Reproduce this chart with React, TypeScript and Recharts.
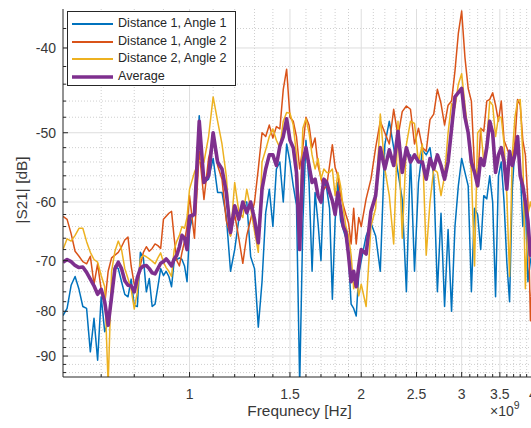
import React from 'react';
import { LineChart, Line, XAxis, YAxis, CartesianGrid, Legend, Label } from 'recharts';

// Frequency in GHz (axis shows Hz with x10^9 multiplier)
const freqGHz = [
  0.60, 0.61, 0.62, 0.63, 0.64, 0.65, 0.66, 0.67, 0.68, 0.69,
  0.70, 0.71, 0.72, 0.73, 0.74, 0.75, 0.76, 0.77, 0.78, 0.79,
  0.80, 0.81, 0.82, 0.83, 0.84, 0.85, 0.86, 0.87, 0.88, 0.89,
  0.90, 0.91, 0.92, 0.93, 0.94, 0.95, 0.96, 0.97, 0.98, 0.99,
  1.00,
  1.02, 1.04, 1.06, 1.08, 1.10, 1.12, 1.14, 1.16, 1.18, 1.20,
  1.22, 1.24, 1.26, 1.28, 1.30, 1.32, 1.34, 1.36, 1.38, 1.40,
  1.42, 1.44, 1.46, 1.48, 1.50, 1.52, 1.54, 1.56, 1.58, 1.60,
  1.62, 1.64, 1.66, 1.68, 1.70, 1.72, 1.74, 1.76, 1.78, 1.80,
  1.82, 1.84, 1.86, 1.88, 1.90, 1.92, 1.94, 1.96, 1.98, 2.00,
  2.04, 2.08, 2.12, 2.16, 2.20, 2.24, 2.28, 2.32, 2.36, 2.40,
  2.44, 2.48, 2.52, 2.56, 2.60, 2.64, 2.68, 2.72, 2.76, 2.80,
  2.84, 2.88, 2.92, 2.96, 3.00, 3.04, 3.08, 3.12, 3.16, 3.20,
  3.24, 3.28, 3.32, 3.36, 3.40, 3.44, 3.48, 3.52, 3.56, 3.60,
  3.64, 3.68, 3.72, 3.76, 3.80, 3.84, 3.88, 3.92, 3.96, 4.00,
  4.04,
];

// |S21| in dB
const dist1Angle1 = [
  -80.9, -79.4, -74.7, -73, -75.5, -79, -79.4, -89, -81.5, -91,
  -77, -84.4, -82.5, -78, -71, -71.5, -74, -76.5, -77, -73.5,
  -78.8, -79, -68.5, -69.5, -76, -73.4, -79, -78.5, -75, -71.5,
  -72.8, -72, -73, -75, -70, -69.8, -69.5, -69.8, -71, -74,
  -64.5,
  -61.2, -47.8, -57, -56.5, -53.5, -58.5, -58.5, -62.3, -72, -68,
  -62.8, -60, -60, -69.3, -71.5, -83.4, -74, -61.7, -58, -64,
  -55, -54, -60, -51.5, -54, -57.5, -60.5, -97, -63.4, -51,
  -57, -72, -58.5, -63.4, -70, -56.5, -58, -61, -77.5, -63,
  -57, -63, -64.5, -66, -69.3, -78.5, -79.4, -81, -72.6, -70,
  -65.6, -63.4, -65.6, -72, -51.6, -48.5, -52, -55.5, -59.6, -76,
  -53, -72, -57, -52.3, -53, -52, -56, -76, -61.8, -79,
  -64.5, -80, -64, -57.5, -53.5, -55.5, -57.5, -76, -61, -62,
  -68, -59, -59.5, -56, -60, -77, -56, -54, -60, -70.3,
  -78, -58, -51.8, -50.5, -55, -64, -60, -74, -70, -68,
  -66,
];

const dist1Angle2 = [
  -62.3, -62.8, -65.2, -68.3, -69.2, -70.2, -70.6, -69.2, -74.5, -70.6,
  -75.5, -78.5, -72, -69.5, -69, -68.5, -67.5, -66.3, -65.8, -71,
  -74.5, -74.8, -70.9, -68.5, -67.5, -68.3, -67.8, -67, -67.3, -67.8,
  -62.8, -62.3, -61.8, -61.5, -66, -70, -71, -68.5, -66.5, -64,
  -59,
  -66, -52.5, -59.6, -53.5, -50.8, -54.5, -56.5, -63, -65.6, -62,
  -66, -70.5, -65.5, -62.8, -60, -55, -50, -50.5, -49, -50.7,
  -49.2, -49.5, -44.6, -42.3, -48, -48.5, -50.5, -55, -52, -48,
  -49, -52, -50.7, -54.5, -56.3, -58, -57.5, -54.5, -51.6, -54.8,
  -56, -59, -60.5, -62, -63.4, -67, -61, -67, -62.5, -64,
  -59.5, -56.5, -52, -48.5, -50, -51.5, -47, -50.5, -47.3, -46.6,
  -47, -51.5, -49.4, -52, -52.5, -48.3, -47.6, -44.6, -46.3, -49,
  -46.5, -46, -42.5, -38.5, -36.3, -41, -44.5, -46, -55, -57,
  -49.4, -49.8, -46, -45.8, -45, -46.5, -48.5, -46, -51, -52,
  -53, -54, -51.2, -45.8, -46.5, -51, -53, -60, -82, -70,
  -66,
];

const dist2Angle2 = [
  -68, -66.1, -66.5, -65.5, -64.3, -64.3, -66.6, -68.5, -69.8, -70.3,
  -72.8, -75, -97, -72, -68.3, -66.5, -68, -71.5, -73.4, -75.5,
  -79.5, -76, -69.7, -69, -69.3, -69.7, -70.1, -70.6, -69.5, -68.6,
  -70.3, -71.3, -72, -73, -68, -66.5, -65.5, -64, -64.3, -62.5,
  -58,
  -55.5, -53.8, -54, -50.5, -45.5, -48.5, -51.5, -56, -65.6, -57,
  -61.5, -62.5, -58, -61, -64.8, -68.5, -54, -52.3, -50.5, -49.5,
  -51, -52, -48.5, -47.4, -47.5, -49, -53, -63, -49.4, -48.2,
  -50, -53, -55, -53.5, -56.5, -55, -55.5, -55.5, -55, -59,
  -55.5, -57.5, -61, -64, -65.6, -69, -75.4, -73, -76.8, -74.5,
  -79, -64, -61, -47.6, -55, -59, -67, -48.5, -66, -51.6,
  -48.5, -48.8, -54, -51.5, -69, -60, -55, -55.5, -59, -56,
  -50, -46.3, -46.8, -44, -42.8, -46.5, -50, -55.5, -71, -50,
  -49.5, -54, -51.2, -46, -46.5, -50.5, -48, -48, -51.5, -59,
  -73, -53, -48, -46, -45.8, -53, -75.4, -62, -60, -62,
  -63,
];

const average = [
  -70.3, -69.8, -70.2, -70.9, -71.3, -71.2, -72.2, -73.5, -74.8, -76.5,
  -75.5, -78, -83, -77, -71.5, -70.3, -71.5, -73.8, -74.7, -74.8,
  -76, -73.2, -71.5, -71, -70.9, -71.5, -72.3, -72.5, -71.5, -70.5,
  -70.2, -69.7, -70.3, -71, -69.7, -69, -67.5, -65.5, -66, -68,
  -62.3,
  -62, -48.5, -57, -56, -50, -54, -55, -58.5, -65, -60.6,
  -62.8, -60, -61.7, -60, -62.8, -66.8, -58, -55, -53, -53,
  -54.5, -51.8, -50.5, -48.2, -51, -52, -55.5, -68, -54, -52,
  -54.5, -57, -56.5, -59, -60, -56.5, -57, -58.5, -59.8, -62,
  -58.5, -61, -64, -65, -69, -74, -72, -75, -71, -68,
  -68.8, -61.5, -59, -52, -55, -52.3, -54.5, -49.8, -55.5, -52,
  -54, -53, -54, -54, -56.5, -53.5, -55, -53, -54.5, -56.5,
  -54, -49.5, -45.5, -45, -44.5, -48, -50, -54, -55.5, -57.5,
  -53.5, -54.5, -52, -48.5, -50, -55.5, -53, -52, -54, -58,
  -52.5, -54.5, -53, -50.5, -56, -57.5, -60, -63, -69, -67,
  -65,
];

const seriesNames = ['Distance 1, Angle 1', 'Distance 1, Angle 2', 'Distance 2, Angle 2', 'Average'];
const seriesKeys = ['d11', 'd12', 'd22', 'avg'];
const seriesColors = ['#0072BD', '#D95319', '#EDB120', '#7E2F8E'];

const xMajorTicks = [1, 1.5, 2, 2.5, 3, 3.5, 4];
const xMinorTicks = [0.7, 0.8, 0.9, 1.1, 1.2, 1.3, 1.4, 1.6, 1.7, 1.8, 1.9, 2.1, 2.2, 2.3, 2.4, 2.6, 2.7, 2.8, 2.9, 3.1, 3.2, 3.3, 3.4, 3.6, 3.7, 3.8, 3.9];
// y axis plotted as |dB| on a reversed log scale, labelled with the minus sign
const yMajorTicks = [40, 50, 60, 70, 80, 90];
const yMinorTicks = [38, 42, 44, 46, 48, 52, 54, 56, 58, 62, 64, 66, 68, 72, 74, 76, 78, 82, 84, 86, 88, 92, 94];

const FONT = '"Liberation Sans", Arial, Helvetica, sans-serif';
const AXIS = '#262626';
const TEXT = '#383838';

const rows = freqGHz.map((f, i) => ({
  f,
  d11: -dist1Angle1[i],
  d12: -dist1Angle2[i],
  d22: -dist2Angle2[i],
  avg: -average[i],
}));

const BottomTick = (props: any) => {
  const { x, y, payload } = props;
  const major = xMajorTicks.includes(payload.value);
  return (
    <g>
      <line x1={x} x2={x} y1={y} y2={y - (major ? 5 : 3)} stroke={AXIS} strokeWidth={1} />
      {major && (
        <text x={x} y={y + 22} textAnchor="middle" fontSize={14} fontFamily={FONT} fill={TEXT}>
          {String(payload.value)}
        </text>
      )}
    </g>
  );
};

const TopTick = (props: any) => {
  const { x, y, payload } = props;
  const major = xMajorTicks.includes(payload.value);
  return <line x1={x} x2={x} y1={y} y2={y + (major ? 5 : 3)} stroke={AXIS} strokeWidth={1} />;
};

const LeftTick = (props: any) => {
  const { x, y, payload } = props;
  const major = yMajorTicks.includes(payload.value);
  return (
    <g>
      <line x1={x} x2={x + (major ? 5 : 3)} y1={y} y2={y} stroke={AXIS} strokeWidth={1} />
      {major && (
        <text x={x - 7} y={y + 5} textAnchor="end" fontSize={14} fontFamily={FONT} fill={TEXT}>
          {`-${payload.value}`}
        </text>
      )}
    </g>
  );
};

const XLabelContent = (props: any) => {
  const vb = props.viewBox || { x: 63, y: 377, width: 473, height: 51 };
  return (
    <g>
      <text x={vb.x + vb.width / 2} y={vb.y + 39} textAnchor="middle" fontSize={15.4} fontFamily={FONT} fill={TEXT}>
        Frequnecy [Hz]
      </text>
      <text x={vb.x + vb.width - 46} y={vb.y + 39} fontSize={14} fontFamily={FONT} fill={TEXT}>
        ×10
        <tspan dy={-7} fontSize={10.5}>9</tspan>
      </text>
    </g>
  );
};

const YLabelContent = (props: any) => {
  const vb = props.viewBox || { x: 0, y: 9, width: 63, height: 368 };
  const cx = vb.x + 27;
  const cy = vb.y + vb.height / 2 - 3;
  return (
    <text x={cx} y={cy} transform={`rotate(-90, ${cx}, ${cy})`} textAnchor="middle" fontSize={15.4} fontFamily={FONT} fill={TEXT}>
      |S21| [dB]
    </text>
  );
};

const renderLegend = () => (
  <div
    style={{
      width: 169,
      height: 75,
      boxSizing: 'border-box',
      border: `1px solid ${AXIS}`,
      background: '#fff',
      paddingTop: 3,
      fontFamily: FONT,
      fontSize: 12.6,
      color: '#262626',
    }}
  >
    {seriesNames.map((name, i) => (
      <div key={name} style={{ display: 'flex', alignItems: 'center', height: 17.7 }}>
        <svg width={50} height={10} style={{ display: 'block', flex: 'none' }}>
          <line x1={4} x2={45} y1={5} y2={5} stroke={seriesColors[i]} strokeWidth={i === 3 ? 3.4 : 2} />
        </svg>
        <span style={{ lineHeight: '17.7px', whiteSpace: 'nowrap' }}>{name}</span>
      </div>
    ))}
  </div>
);

export default function App() {
  const allX = [...xMajorTicks, ...xMinorTicks].sort((a, b) => a - b);
  const allY = [...yMajorTicks, ...yMinorTicks].sort((a, b) => a - b);
  return (
    <div style={{ position: 'fixed', left: 0, top: 0, width: 531, height: 428, overflow: 'hidden', background: '#fff' }}>
      <LineChart width={560} height={428} data={rows} margin={{ top: 9, right: 24, bottom: 0, left: 0 }}>
        <CartesianGrid verticalValues={xMinorTicks} horizontalValues={yMinorTicks} stroke="#cfcfcf" strokeDasharray="1 2" />
        <CartesianGrid verticalValues={xMajorTicks} horizontalValues={yMajorTicks} stroke="#dedede" />
        <XAxis
          dataKey="f"
          type="number"
          scale="log"
          domain={[0.6, 4.05]}
          allowDataOverflow
          ticks={allX}
          interval={0}
          tickSize={0}
          tickMargin={0}
          height={51}
          axisLine={{ stroke: AXIS }}
          tickLine={false}
          tick={<BottomTick />}
        >
          <Label content={<XLabelContent />} />
        </XAxis>
        <XAxis
          xAxisId="top"
          orientation="top"
          dataKey="f"
          type="number"
          scale="log"
          domain={[0.6, 4.05]}
          allowDataOverflow
          ticks={allX}
          interval={0}
          tickSize={0}
          tickMargin={0}
          height={0}
          axisLine={{ stroke: AXIS }}
          tickLine={false}
          tick={<TopTick />}
        />
        <YAxis
          type="number"
          scale="log"
          domain={[36.1, 95.1]}
          reversed
          allowDataOverflow
          ticks={allY}
          interval={0}
          tickSize={0}
          tickMargin={0}
          width={63}
          axisLine={{ stroke: AXIS }}
          tickLine={false}
          tick={<LeftTick />}
        >
          <Label content={<YLabelContent />} />
        </YAxis>
        <Legend
          content={renderLegend}
          layout="horizontal"
          verticalAlign="middle"
          align="center"
          wrapperStyle={{ left: 67, top: 11, width: 169, height: 75, margin: 0, padding: 0 }}
        />
        {seriesKeys.map((k, i) => (
          <Line
            key={k}
            xAxisId={i === 0 ? 'top' : 0}
            type="linear"
            dataKey={k}
            name={seriesNames[i]}
            stroke={seriesColors[i]}
            strokeWidth={i === 3 ? 3.6 : 1.5}
            strokeLinejoin="round"
            dot={false}
            activeDot={false}
            isAnimationActive={false}
          />
        ))}
      </LineChart>
    </div>
  );
}
